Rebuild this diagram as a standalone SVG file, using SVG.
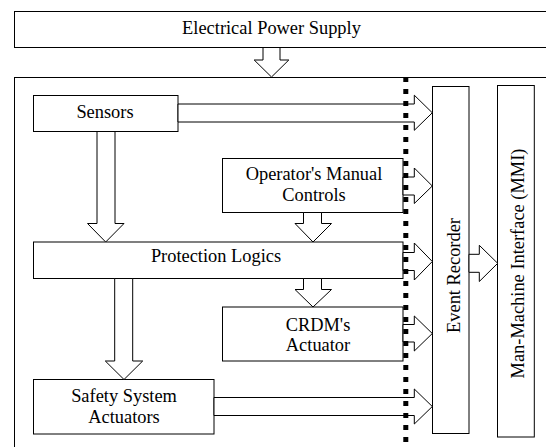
<svg xmlns="http://www.w3.org/2000/svg" width="546" height="447" viewBox="0 0 546 447">
<style>
.box{fill:#fff;stroke:#000;stroke-width:1}
.arr{fill:#fff;stroke:#000;stroke-width:1;stroke-linejoin:miter}
text{font-family:"Liberation Serif","Times New Roman",serif;font-size:18.4px;fill:#000;text-anchor:middle}
.dots{stroke:#000;stroke-width:5;stroke-dasharray:5 7;fill:none}
</style>
<rect width="546" height="447" fill="#fff"/>
<g id="power"><rect class="box" x="14.5" y="11.5" width="540" height="36"/><text x="271.5" y="34">Electrical Power Supply</text></g>
<g id="system"><rect class="box" x="14.5" y="77.5" width="540" height="380"/></g>
<g id="event-recorder"><rect class="box" x="432.5" y="86.5" width="36.5" height="347"/><text transform="translate(460,275.5) rotate(-90)">Event Recorder</text></g>
<g id="mmi"><rect class="box" x="497.5" y="85.5" width="36.8" height="351.5"/><text transform="translate(524,263.5) rotate(-90)">Man-Machine Interface (MMI)</text></g>
<g id="sensors"><rect class="box" x="33.5" y="95.5" width="144.5" height="36"/><text x="105" y="117.5">Sensors</text></g>
<g id="operator"><rect class="box" x="222.5" y="158.5" width="180.5" height="54"/><text x="314" y="180">Operator's Manual</text><text x="314" y="200.7">Controls</text></g>
<g id="protection"><rect class="box" x="33.5" y="242" width="369.5" height="36.5"/><text x="216" y="261.7">Protection Logics</text></g>
<g id="crdm"><rect class="box" x="222.5" y="307" width="180.5" height="54"/><text x="318" y="330.7">CRDM's</text><text x="318" y="351">Actuator</text></g>
<g id="safety"><rect class="box" x="33.5" y="379.5" width="180.5" height="54.5"/><text x="124" y="401.7">Safety System</text><text x="124" y="422.7">Actuators</text></g>
<g id="connectors">
<polygon class="arr" points="263,47.5 280,47.5 280,60 288.8,60 271.5,77 254.2,60 263,60"/>
<polygon class="arr" points="97,131.5 115,131.5 115,223.5 124,223.5 105.7,242 87.5,223.5 97,223.5"/>
<polygon class="arr" points="303.5,212.5 321.5,212.5 321.5,223.5 331.5,223.5 313,242 295,223.5 303.5,223.5"/>
<polygon class="arr" points="303.5,278.5 321.5,278.5 321.5,289.5 331.5,289.5 313,307 295,289.5 303.5,289.5"/>
<polygon class="arr" points="114.7,278.5 132.7,278.5 132.7,361 142.7,361 124,379.5 105.3,361 114.7,361"/>
<polygon class="arr" points="178,104 414.3,104 414.3,95.2 432.3,112.8 414.3,130.3 414.3,122 178,122"/>
<polygon class="arr" points="403,177 414.3,177 414.3,168 432.3,186 414.3,203.5 414.3,195 403,195"/>
<polygon class="arr" points="403,252.5 414.3,252.5 414.3,243 432.3,261.5 414.3,280 414.3,270.5 403,270.5"/>
<polygon class="arr" points="403,324.5 414.3,324.5 414.3,316 432.3,333.5 414.3,351 414.3,342 403,342"/>
<polygon class="arr" points="214,397.5 414.3,397.5 414.3,389 432.3,406.5 414.3,424 414.3,415.5 214,415.5"/>
<polygon class="arr" points="469,254.3 479.3,254.3 479.3,245.3 497.7,263.3 479.3,281.5 479.3,272.3 469,272.3"/>
<line class="dots" x1="405.8" y1="77" x2="405.8" y2="442"/>
</g>
</svg>
